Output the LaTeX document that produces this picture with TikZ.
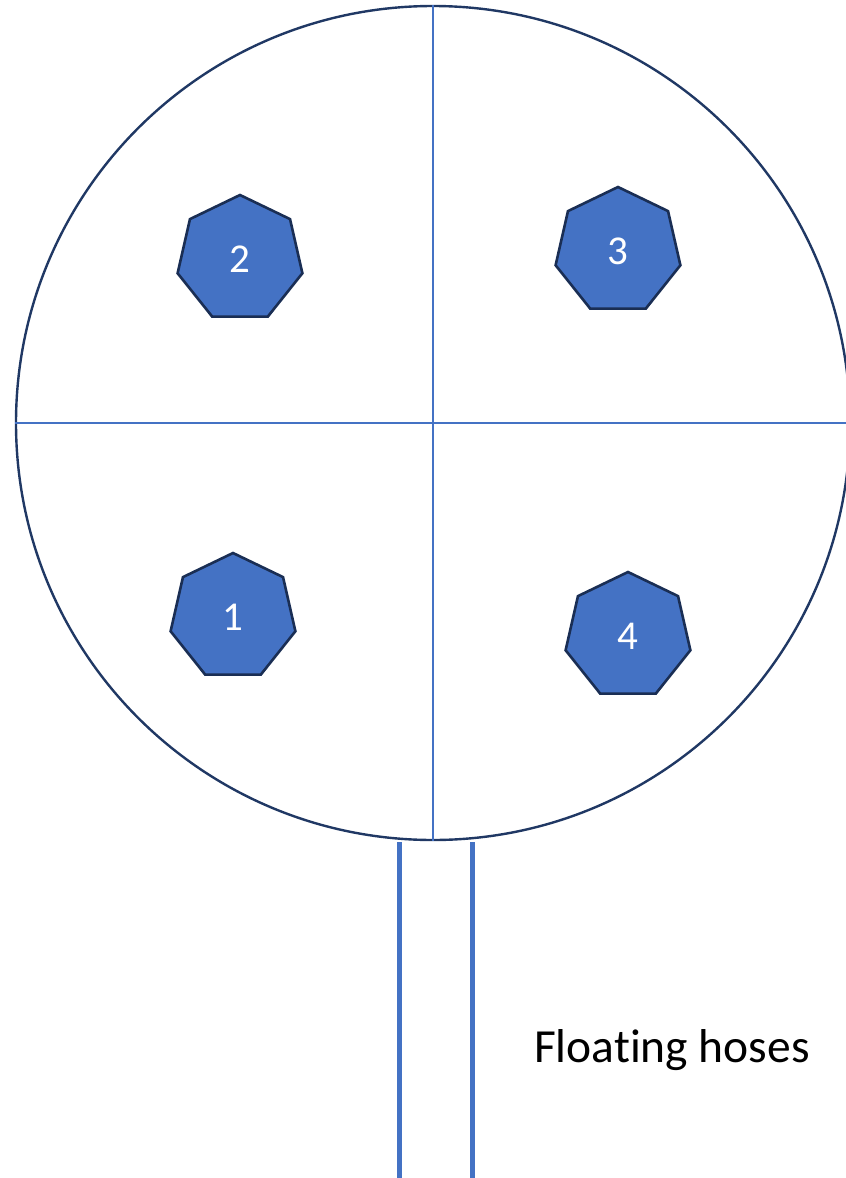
\documentclass[tikz,border=0pt]{standalone}
\usepackage{fontspec}
\setmainfont{Carlito}[Ligatures=NoCommon]
\usetikzlibrary{positioning,shapes.geometric}
\definecolor{hoseblue}{RGB}{68,114,196}
\definecolor{rimnavy}{RGB}{32,56,100}
\definecolor{edgenavy}{RGB}{26,46,84}

\begin{document}
\begin{tikzpicture}[
    x=1pt,y=-1pt,
    rim/.style={circle,draw=rimnavy,line width=2.4pt,inner sep=0pt,minimum size=834pt},
    divider/.style={draw=hoseblue,line width=1.2pt},
    buoy/.style={regular polygon,regular polygon sides=7,draw=edgenavy,fill=hoseblue,
      line width=2.6pt,inner sep=0pt,minimum size=128pt,text=white,
      font=\fontsize{41}{49}\selectfont},
    hose/.style={draw=hoseblue,line width=5pt},
    caption/.style={anchor=base,font=\fontsize{47.5}{57}\selectfont}
  ]
    \useasboundingbox (0,0) rectangle (846,1178);
    \node[rim] (tank) at (433,423) {};
    \draw[divider] (tank.north) -- (tank.south);
    \draw[divider] (tank.west) -- (846,423);

    \node[buoy] (b1) at (233,617) {1};
    \node[buoy] (b2) at (240,259) {2};
    \node[buoy] (b3) at (618,251) {3};
    \node[buoy] (b4) at (628,636) {4};

    \coordinate (h1top) at (399,842);
    \coordinate (h1end) at (399,1178);
    \coordinate (h2top) at (472,842);
    \coordinate (h2end) at (472,1178);
    \draw[hose] (h1top) -- (h1end);
    \draw[hose] (h2top) -- (h2end);

    \node[caption] (lbl) at (672,1062) {Floating hoses};
  \end{tikzpicture}
\end{document}
